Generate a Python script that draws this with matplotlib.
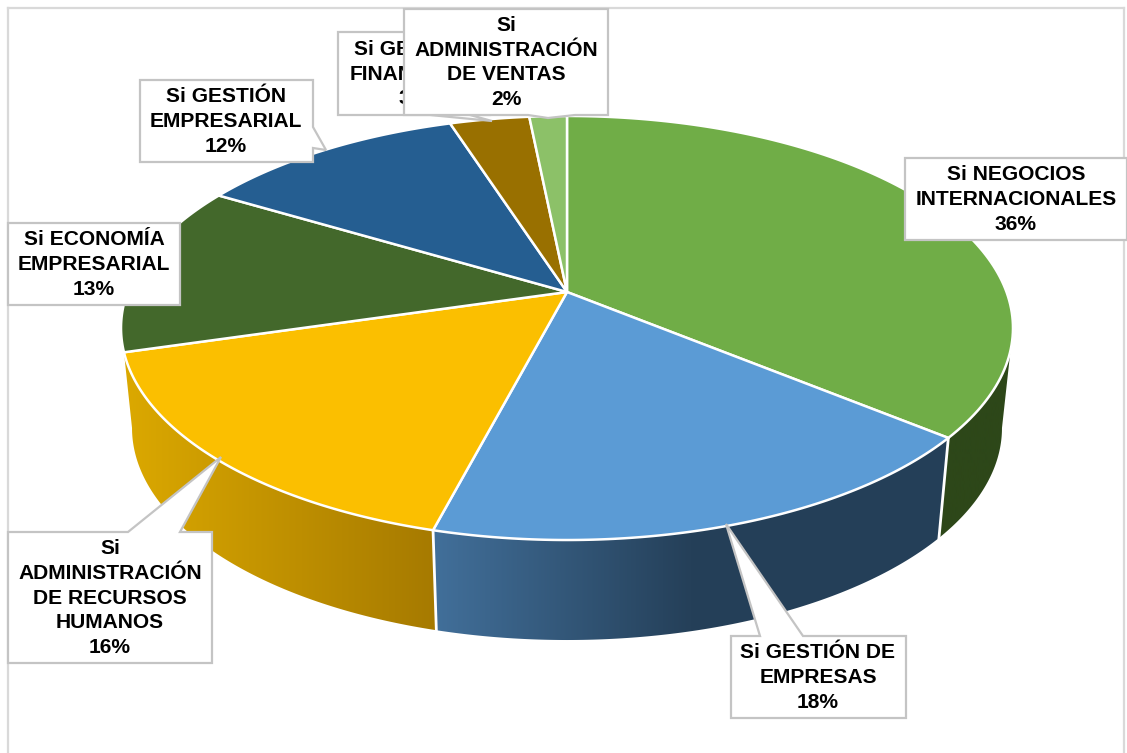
import numpy as np
import matplotlib
matplotlib.use("Agg")
import matplotlib.pyplot as plt
from matplotlib.colors import LinearSegmentedColormap
from matplotlib.patches import Polygon

categories = ["Si NEGOCIOS\nINTERNACIONALES", "Si GESTIÓN DE\nEMPRESAS",
              "Si\nADMINISTRACIÓN\nDE RECURSOS\nHUMANOS", "Si ECONOMÍA\nEMPRESARIAL",
              "Si GESTIÓN\nEMPRESARIAL", "Si GESTIÓN\nFINANCIERA", "Si\nADMINISTRACIÓN\nDE VENTAS"]
values = [35.9, 18.2, 16.4, 13.0, 11.5, 3.4, 1.6]
top_colors = ["#70AD47", "#5B9BD5", "#FBBF00", "#43682B", "#255E91", "#997000", "#8CC168"]

W, H = 1127, 753
CX, APEX_Y, PK = 567.0, 292.0, 0.1698
AX, BY = 439.5, 205.9
ELL_CY, BOT_CY, BOT_SCALE = 328.0, 428.0, 435.0 / 446.0
EDGE = "#C4C4C4"

fig = plt.figure(figsize=(W / 100, H / 100), dpi=100)
ax = fig.add_axes([0, 0, 1, 1])
ax.set_axis_off()


def top(theta):
    t = np.radians(theta)
    u, v = np.sin(t), np.cos(t)
    d = 1 + PK * v
    return CX + AX * u / d, APEX_Y - BY * v / d


def bottom(theta):
    x, y = top(theta)
    return CX + (x - CX) * BOT_SCALE, y - ELL_CY + BOT_CY


def arc(fn, a, b, n=120):
    x, y = fn(np.linspace(a, b, n))
    return np.column_stack([x, y])


def side(a_top, b_top, a_bot, b_bot, stops, x0, x1):
    pts = np.vstack([arc(top, a_top, b_top), arc(bottom, b_bot, a_bot)])
    poly = Polygon(pts, closed=True, fc="none", ec="none", zorder=2)
    ax.add_patch(poly)
    cmap = LinearSegmentedColormap.from_list("g", stops)
    grad = np.linspace(0, 1, 256)[None, :]
    im = ax.imshow(grad, cmap=cmap, extent=(x0, x1, H, 0), aspect="auto", zorder=2,
                   interpolation="bilinear", clip_on=True)
    im.set_clip_path(poly)


edges = 360 * np.cumsum([0] + values) / np.sum(values)
RIGHT_EXT = np.degrees(np.arccos(-PK))
LEFT_EXT = 360 - RIGHT_EXT

# side walls: front-facing portion only
side(RIGHT_EXT, edges[1], RIGHT_EXT, edges[1], ["#2D4719", "#2D4719"], 900, 1020)
side(edges[1], edges[2], edges[1], edges[2],
     ["#42709B", "#254059", "#243F58"], 430, 950)
side(edges[2], edges[3], edges[2], LEFT_EXT, ["#DDAA00", "#A67A00"], 115, 436)

# separators between side walls
for e in edges[1:3]:
    xt, yt = top(e)
    xb, yb = bottom(e)
    ax.plot([xt, xb], [yt, yb], color="white", lw=2, zorder=3)

# top face
for i, c in enumerate(top_colors):
    pts = np.vstack([[[CX, APEX_Y]], arc(top, edges[i], edges[i + 1])])
    ax.add_patch(Polygon(pts, closed=True, fc=c, ec="white", lw=1.8, joinstyle="round", zorder=4))


def callout(box, pointer, text, cx=None):
    x0, y0, x1, y1 = box
    if pointer is None:
        pts = [(x0, y0), (x1, y0), (x1, y1), (x0, y1)]
    else:
        tip, b0, b1, where = pointer
        if where == "bottom":
            pts = [(x0, y0), (x1, y0), (x1, y1), b1, tip, b0, (x0, y1)]
        elif where == "top":
            pts = [(x0, y0), b0, tip, b1, (x1, y0), (x1, y1), (x0, y1)]
        else:
            pts = [(x0, y0), (x1, y0), b0, tip, b1, (x1, y1), (x0, y1)]
    ax.add_patch(Polygon(pts, closed=True, fc="white", ec=EDGE, lw=1.6, joinstyle="miter", zorder=callout.z))
    ax.text((x0 + x1) / 2 if cx is None else cx, (y0 + y1) / 2 + 0.5, text, ha="center", va="center",
            fontsize=15.1, fontweight="bold", family="Liberation Sans", color="black",
            linespacing=1.38, zorder=callout.z + 0.5)
    callout.z += 1


callout.z = 6
labels = [f"{c}\n{round(v)}%" for c, v in zip(categories, values)]
callout((905, 158, 1127, 240), None, labels[0], cx=1016)
callout((731, 636, 906, 718), ((726, 524), (760, 636), (803, 636), "top"), labels[1], cx=818)
callout((8, 532, 212, 663), ((221, 457), (128, 532), (180, 532), "top"), labels[2], cx=110)
callout((8, 223, 180, 305), None, labels[3], cx=94)
callout((140, 80, 313, 162), ((326, 150), (313, 127), (313, 148), "right"), labels[4], cx=226)
callout((338, 32, 490, 115), ((492, 121), (430, 115), (470, 115), "bottom"), labels[5], cx=414)
callout((404, 9, 608, 115), ((548, 118), (528, 115), (575, 115), "bottom"), labels[6], cx=506)

# chart frame
ax.plot([8, 8], [H, 8], color="#D9D9D9", lw=1.6, zorder=5)
ax.plot([8, 1124], [8, 8], color="#D9D9D9", lw=1.6, zorder=5)
ax.plot([1124, 1124], [8, H], color="#D9D9D9", lw=1.6, zorder=5)

ax.set_xlim(0, W)
ax.set_ylim(H, 0)
fig.savefig("out.png", dpi=100, facecolor="white")
